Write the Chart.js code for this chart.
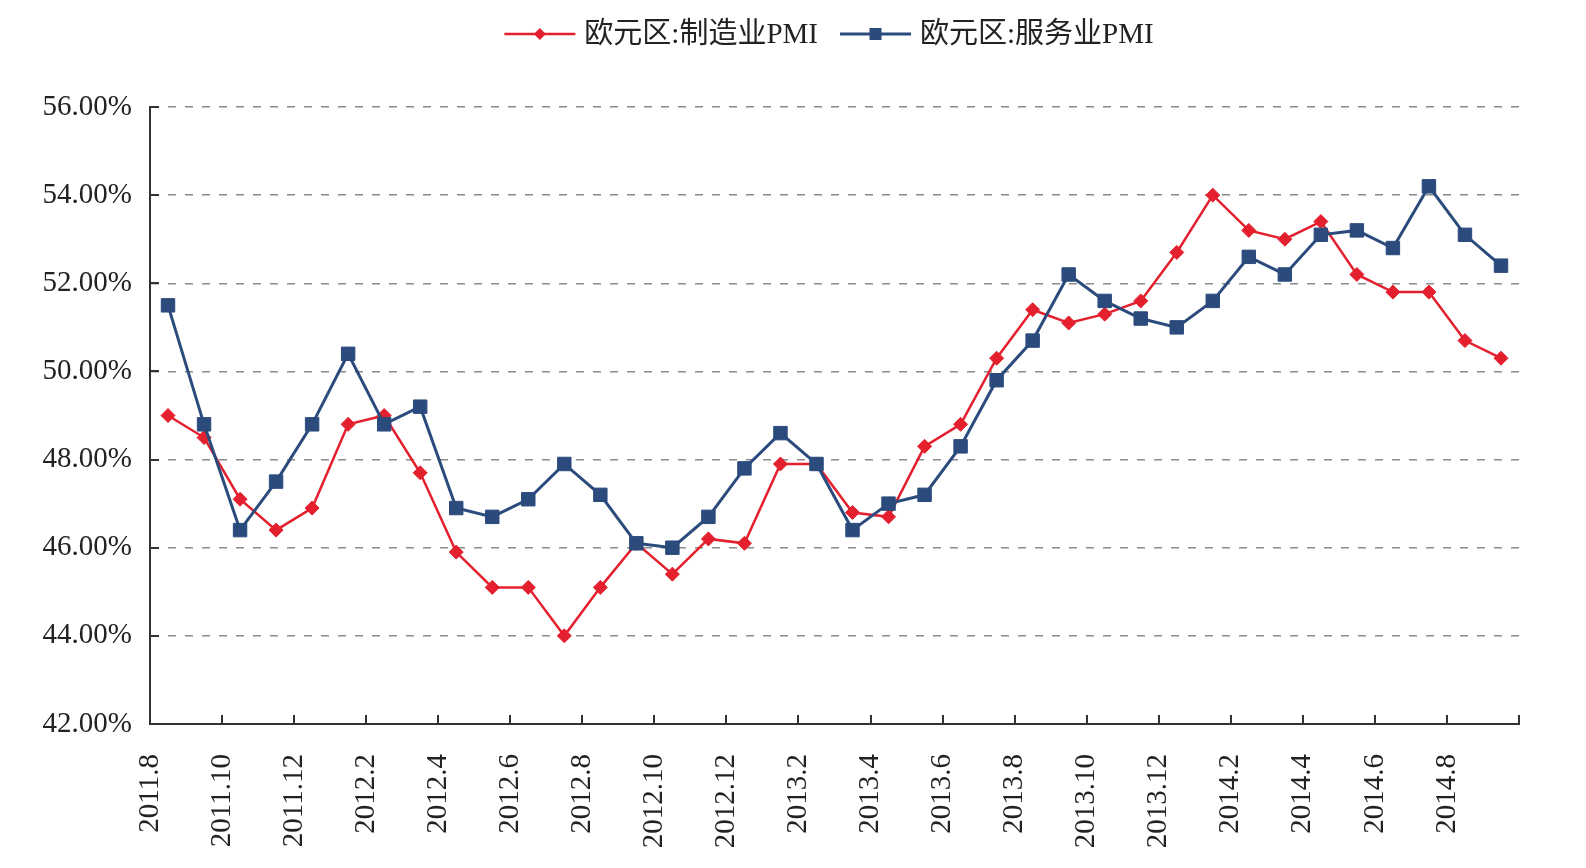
<!DOCTYPE html>
<html>
<head>
<meta charset="utf-8">
<script src="https://cdn.jsdelivr.net/npm/chart.js@4"></script>
<style>
  body { margin: 0; background: #fff; }
</style>
</head>
<body>
<canvas id="pmiChart" width="1586" height="868"></canvas>
<script>
// months on the x axis (2011.8 - 2014.9)
var months = [
  '2011.8', '2011.9', '2011.10', '2011.11', '2011.12',
  '2012.1', '2012.2', '2012.3', '2012.4', '2012.5', '2012.6', '2012.7', '2012.8', '2012.9', '2012.10', '2012.11', '2012.12',
  '2013.1', '2013.2', '2013.3', '2013.4', '2013.5', '2013.6', '2013.7', '2013.8', '2013.9', '2013.10', '2013.11', '2013.12',
  '2014.1', '2014.2', '2014.3', '2014.4', '2014.5', '2014.6', '2014.7', '2014.8', '2014.9'
];
var manufacturing = [
  49.0, 48.5, 47.1, 46.4, 46.9,
  48.8, 49.0, 47.7, 45.9, 45.1, 45.1, 44.0, 45.1, 46.1, 45.4, 46.2, 46.1,
  47.9, 47.9, 46.8, 46.7, 48.3, 48.8, 50.3, 51.4, 51.1, 51.3, 51.6, 52.7,
  54.0, 53.2, 53.0, 53.4, 52.2, 51.8, 51.8, 50.7, 50.3
];
var services = [
  51.5, 48.8, 46.4, 47.5, 48.8,
  50.4, 48.8, 49.2, 46.9, 46.7, 47.1, 47.9, 47.2, 46.1, 46.0, 46.7, 47.8,
  48.6, 47.9, 46.4, 47.0, 47.2, 48.3, 49.8, 50.7, 52.2, 51.6, 51.2, 51.0,
  51.6, 52.6, 52.2, 53.1, 53.2, 52.8, 54.2, 53.1, 52.4
];
var seriesNames = ['欧元区:制造业PMI', '欧元区:服务业PMI'];
var yTicks = [42, 44, 46, 48, 50, 52, 54, 56];

var fontFamily = "'Liberation Serif', 'Times New Roman', 'Noto Sans CJK SC', serif";
var red = '#e4202e';
var blue = '#2b4b7d';
var axisColor = '#333333';

function toPoints(arr) {
  return arr.map(function (v, i) { return { x: i, y: v }; });
}

// white background
var bgPlugin = {
  id: 'bg',
  beforeDraw: function (chart) {
    var c = chart.ctx;
    c.save();
    c.fillStyle = '#fff';
    c.fillRect(0, 0, chart.width, chart.height);
    c.restore();
  }
};

// tick marks point inward, like the original
var innerTicks = {
  id: 'innerTicks',
  afterDraw: function (chart) {
    var c = chart.ctx, area = chart.chartArea;
    var xs = chart.scales.x, ys = chart.scales.y;
    c.save();
    c.strokeStyle = axisColor;
    c.lineWidth = 2;
    c.beginPath();
    xs.ticks.forEach(function (t) {
      var px = Math.round(xs.getPixelForValue(t.value));
      c.moveTo(px, area.bottom);
      c.lineTo(px, area.bottom - 9);
    });
    ys.ticks.forEach(function (t) {
      var py = Math.round(ys.getPixelForValue(t.value));
      c.moveTo(area.left, py);
      c.lineTo(area.left + 9, py);
    });
    c.stroke();
    c.restore();
  }
};

function drawMarker(c, style, x, y, r, color) {
  c.fillStyle = color;
  c.beginPath();
  if (style === 'rectRot') {
    c.moveTo(x, y - r);
    c.lineTo(x + r, y);
    c.lineTo(x, y + r);
    c.lineTo(x - r, y);
  } else {
    var s = r * Math.SQRT1_2;
    c.rect(x - s, y - s, 2 * s, 2 * s);
  }
  c.closePath();
  c.fill();
}

// legend: line sample with marker, then the series name
var lineLegend = {
  id: 'lineLegend',
  afterDraw: function (chart) {
    var c = chart.ctx;
    var sample = 71, gapText = 9, gapItem = 22, cy = 34;
    c.save();
    c.font = '29px ' + fontFamily;
    c.textBaseline = 'middle';
    var widths = chart.data.datasets.map(function (ds) {
      return sample + gapText + c.measureText(ds.label).width;
    });
    var total = widths.reduce(function (a, b) { return a + b; }, 0) + gapItem * (widths.length - 1);
    var x = 829 - total / 2;
    chart.data.datasets.forEach(function (ds, i) {
      c.strokeStyle = ds.borderColor;
      c.lineWidth = ds.borderWidth;
      c.beginPath();
      c.moveTo(x, cy);
      c.lineTo(x + sample, cy);
      c.stroke();
      drawMarker(c, ds.pointStyle, x + sample / 2, cy, ds.pointStyle === 'rectRot' ? 6 : 8.5, ds.borderColor);
      c.fillStyle = '#222';
      c.fillText(ds.label, x + sample + gapText, cy + 1);
      x += widths[i] + gapItem;
    });
    c.restore();
  }
};

var ctx = document.getElementById('pmiChart').getContext('2d');
var pmiChart = new Chart(ctx, {
  type: 'line',
  data: {
    datasets: [{
      label: seriesNames[0],
      data: toPoints(manufacturing),
      borderColor: red,
      backgroundColor: red,
      borderWidth: 2.5,
      pointStyle: 'rectRot',
      pointRadius: 7,
      pointBorderWidth: 1,
      tension: 0,
      order: 1
    }, {
      label: seriesNames[1],
      data: toPoints(services),
      borderColor: blue,
      backgroundColor: blue,
      borderWidth: 3,
      pointStyle: 'rect',
      pointRadius: 9.5,
      pointBorderWidth: 1,
      tension: 0,
      order: 0
    }]
  },
  options: {
    responsive: false,
    animation: false,
    layout: { padding: { top: 107, right: 67, bottom: 0, left: 0 } },
    plugins: {
      legend: { display: false },
      tooltip: { enabled: false }
    },
    scales: {
      x: {
        type: 'linear',
        min: -0.5,
        max: months.length - 0.5,
        afterBuildTicks: function (scale) {
          var t = [];
          for (var v = -0.5; v <= months.length - 0.5; v += 2) t.push({ value: v });
          scale.ticks = t;
        },
        afterFit: function (scale) { scale.height = 144; },
        grid: { display: false, drawTicks: false },
        border: { display: true, color: axisColor, width: 2 },
        ticks: {
          autoSkip: false,
          maxRotation: 90,
          minRotation: 90,
          padding: 30,
          color: '#222',
          font: { family: fontFamily, size: 29 },
          callback: function (value) {
            var m = months[value + 0.5];
            return m === undefined ? '' : m;
          }
        }
      },
      y: {
        min: yTicks[0],
        max: yTicks[yTicks.length - 1],
        afterBuildTicks: function (scale) {
          scale.ticks = yTicks.map(function (v) { return { value: v }; });
        },
        afterFit: function (scale) { scale.width = 150; },
        grid: {
          color: '#8a8a8a',
          lineWidth: 1.5,
          drawTicks: false
        },
        border: { display: true, color: axisColor, width: 2, dash: [8, 9] },
        ticks: {
          padding: 18,
          color: '#222',
          font: { family: fontFamily, size: 29 },
          callback: function (value) { return value.toFixed(2) + '%'; }
        }
      }
    }
  },
  plugins: [bgPlugin, innerTicks, lineLegend]
});
</script>
</body>
</html>
